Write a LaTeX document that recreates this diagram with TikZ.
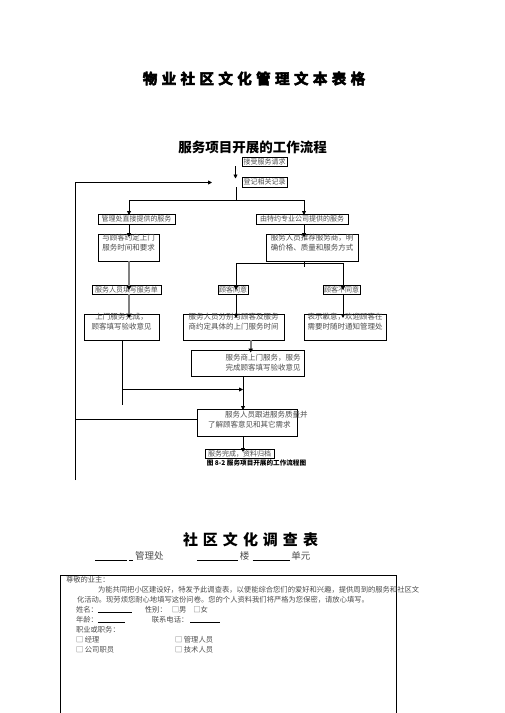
\documentclass[tikz,border=0pt]{standalone}
\usepackage{fontspec}
\setmainfont{Noto Sans CJK SC}
\newfontfamily\heavyf[BoldFont={* Bold}, BoldFeatures={FakeBold=4}, FakeBold=4]{Noto Sans CJK SC}
\usetikzlibrary{arrows.meta}
\tikzset{
  box/.style={draw, line width=0.8pt, inner sep=0pt, outer sep=0pt, text=black!70,
    font=\fontsize{7}{8}\selectfont},
  txt/.style={inner sep=0pt, outer sep=0pt, text=black!70},
  flowtxt/.style={txt, font=\fontsize{7.5}{10}\selectfont},
  surv/.style={txt, anchor=west, font=\fontsize{7.3}{9}\selectfont},
  ln/.style={line width=0.8pt},
  arr/.style={ln, -{Triangle[length=4pt,width=4pt]}},
  garr/.style={line width=1.6pt, draw=black!50, -{Triangle[length=4pt,width=4.5pt,fill=black,color=black]}},
}
\newcommand{\ulr}[1]{\textcolor{black}{\rule[-1pt]{#1}{0.9pt}}}
\begin{document}
\begin{tikzpicture}[x=1pt,y=-1pt]
\useasboundingbox (0,0) rectangle (504,713);
% titles
\node[inner sep=0pt, font=\heavyf\bfseries\fontsize{14.5}{15}\selectfont] (title) at (254,78.5)
  {物\hspace{4.4pt}业\hspace{4.4pt}社\hspace{4.4pt}区\hspace{4.4pt}文\hspace{4.4pt}化\hspace{4.4pt}管\hspace{4.4pt}理\hspace{4.4pt}文\hspace{4.4pt}本\hspace{4.4pt}表\hspace{4.4pt}格};
\node[inner sep=0pt, font=\bfseries\fontsize{13.5}{14}\selectfont] (sub) at (252.5,147) {服务项目开展的工作流程};
% single-line boxes
\node[box, minimum width=45pt, minimum height=9pt] (r1) at (264.5,161.5) {接受服务请求};
\node[box, minimum width=45pt, minimum height=10pt] (r2) at (264.5,182) {登记相关记录};
\node[box, minimum width=77pt, minimum height=10pt] (L1) at (136.5,219) {管理处直接提供的服务};
\node[box, minimum width=92pt, minimum height=10pt] (R1) at (302,219) {由特约专业公司提供的服务};
\node[box, minimum width=69pt, minimum height=9pt] (L3) at (126.5,289.5) {服务人员填写服务单};
\node[box, minimum width=30pt, minimum height=9pt] (M1) at (233,289.5) {顾客同意};
\node[box, minimum width=37pt, minimum height=9pt] (R3) at (341.5,289.5) {顾客不同意};
\node[box, minimum width=69pt, minimum height=9pt] (F) at (239.5,453.5) {服务完成，资料归档};
% multi-line boxes
\node[box, minimum width=61pt, minimum height=27pt] (L2) at (128.5,247.5) {};
\node[flowtxt, align=center] (L2t) at (128.5,243) {与顾客约定上门\\服务时间和要求};
\node[box, minimum width=92pt, minimum height=27pt] (R2) at (312,247.5) {};
\node[flowtxt, align=center] (R2t) at (312,243) {服务人员推荐服务商，明\\确价格、质量和服务方式};
\node[box, minimum width=75pt, minimum height=26pt] (L4) at (121.5,327) {};
\node[flowtxt, align=center] (L4t) at (121.5,322) {上门服务完成，\\顾客填写验收意见};
\node[box, minimum width=101pt, minimum height=26pt] (M2) at (233.5,327) {};
\node[flowtxt, align=center] (M2t) at (233.5,322) {服务人员分别与顾客及服务\\商约定具体的上门服务时间};
\node[box, minimum width=82pt, minimum height=26pt] (R4) at (345,327) {};
\node[flowtxt, align=center] (R4t) at (345,322) {表示歉意，欢迎顾客在\\需要时随时通知管理处};
\node[box, minimum width=113pt, minimum height=26pt] (M3) at (247.5,363) {};
\node[flowtxt, align=right, anchor=east] (M3t) at (300.5,362.5) {服务商上门服务，服务\\完成顾客填写验收意见};
\node[box, minimum width=100pt, minimum height=27pt] (M4) at (247,422.5) {};
\node[flowtxt, align=left, anchor=west] (M4t) at (208,419.5) {\hspace*{17pt}服务人员跟进服务质量并\\了解顾客意见和其它需求};
\node[inner sep=0pt, font=\bfseries\fontsize{6.6}{7}\selectfont] (cap) at (256.5,463.5) {图 8-2 服务项目开展的工作流程图};
% connectors
\coordinate (a0s) at (235.5,166);
\coordinate (a0e) at (235.5,178.5);
\draw[arr] (a0s) -- (a0e);
\coordinate (lb) at (75,480);
\coordinate (lt) at (75,182.5);
\coordinate (ltip) at (212,182.5);
\draw[arr] (lb) -- (lt) -- (ltip);
\coordinate (lj) at (75,419);
\draw[ln] (lj) -- (lj -| M4.west);
\coordinate (s0) at (236.5,187);
\coordinate (sl) at (129,200);
\coordinate (sr) at (304,200);
\draw[ln] (s0) -- (s0 |- sl);
\draw[ln] (sl) -- (sr);
\draw[arr] (sl) -- ([yshift=-1pt]L1.north -| sl);
\draw[arr] (sr) -- ([yshift=-1pt]R1.north -| sr);
\draw[arr] (L1.south -| sl) -- ([yshift=-3pt]L2.north -| sl);
\draw[arr] (R1.south -| sr) -- ([yshift=-3pt]R2.north -| sr);
\draw[garr] (L2.south -| sl) -- ([yshift=-5pt]L3.north -| sl);
\draw[garr] (L3.south -| sl) -- ([yshift=-4pt]L4.north -| sl);
\coordinate (stub) at (304,266.5);
\draw[ln] (R2.south -| stub) -- (stub);
\coordinate (hl) at (236,263.3);
\coordinate (hr) at (343,263.3);
\draw[ln] (hl) -- (hr);
\draw[arr] (hl) -- ([yshift=-5pt]M1.north -| hl);
\draw[arr] (hr) -- ([yshift=-5pt]R3.north -| hr);
\draw[arr] (M1.south -| hl) -- ([yshift=-4pt]M2.north -| hl);
\draw[arr] (R3.south -| hr) -- ([yshift=-4pt]R4.north -| hr);
\coordinate (gx) at (250.7,0);
\draw[garr] (M2.south -| gx) -- ([yshift=-2.5pt]M3.north -| gx);
\coordinate (d1) at (122,405);
\draw[ln] (L4.south -| d1) -- (d1);
\coordinate (hj) at (122,389.5);
\coordinate (hjt) at (243,389.5);
\draw[arr] (hj) -- (hjt);
\coordinate (vx) at (243,0);
\draw[arr] (M3.south -| vx) -- ([yshift=-1pt]M4.north -| vx);
\draw[arr] (M4.south -| vx) -- ([yshift=-3pt]F.north -| vx);
% survey
\node[inner sep=0pt, font=\bfseries\fontsize{15}{16}\selectfont] (stitle) at (250.5,540)
  {社\hspace{5pt}区\hspace{5pt}文\hspace{5pt}化\hspace{5pt}调\hspace{5pt}查\hspace{5pt}表};
\node[txt, anchor=west, font=\fontsize{9.5}{10}\selectfont] (srow) at (95,556)
  {\ulr{32pt}\hspace{2pt}\ulr{4pt}\hspace{2pt}管理处\hspace{33.5pt}\ulr{41.5pt}\hspace{1.5pt}楼\hspace{3pt}\ulr{37.5pt}\hspace{1.5pt}单元};
\coordinate (fb1) at (60,714);
\coordinate (fb2) at (396,714);
\coordinate (ft1) at (60,575);
\coordinate (ft2) at (396,575);
\draw[line width=0.9pt] (fb1) -- (ft1) -- (ft2) -- (fb2);
\node[surv] (t1) at (66,579.5) {尊敬的业主：};
\node[surv] (t2) at (98,589.5) {为能共同把小区建设好，特发予此调查表，以便能综合您们的爱好和兴趣，提供周到的服务和社区文};
\node[surv] (t3) at (77,599.5) {化活动。现劳烦您耐心地填写这份问卷。您的个人资料我们将严格为您保密，请放心填写。};
\node[surv] (t4) at (76,609.5) {姓名：\ulr{34pt}\hspace{13pt}性别：\hspace{5pt}□男\hspace{7pt}□女};
\node[surv] (t5) at (76,619.5) {年龄：\ulr{27pt}\hspace{27pt}联系电话：\hspace{2pt}\ulr{30pt}};
\node[surv] (t6) at (76,629.5) {职业或职务：};
\node[surv] (t7) at (76,639.5) {□ 经理};
\node[surv] (t8) at (175,639.5) {□ 管理人员};
\node[surv] (t9) at (76,649.5) {□ 公司职员};
\node[surv] (t10) at (175,649.5) {□ 技术人员};
\end{tikzpicture}
\end{document}
